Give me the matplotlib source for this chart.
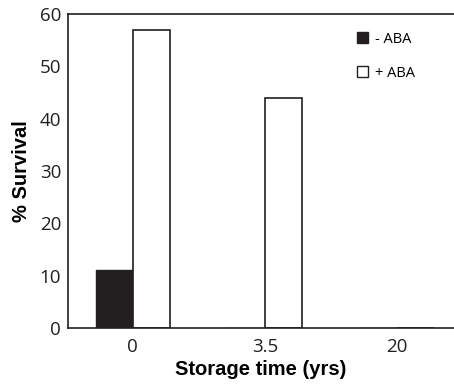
import matplotlib
matplotlib.use("Agg")
import matplotlib.pyplot as plt
import numpy as np
from matplotlib.patches import Patch

categories = ["0", "3.5", "20"]
minus_aba = [11, 0, 0]
plus_aba = [57, 44, 0]
yticks = [0, 10, 20, 30, 40, 50, 60]

fig = plt.figure(figsize=(4.54, 3.85), dpi=100)
ax = fig.add_axes([0.15, 0.148, 0.85, 0.816])

x = np.arange(len(categories))
w = 0.28
ax.bar(x - w/2, minus_aba, w, color="#231f20", edgecolor="#231f20", linewidth=1, label="- ABA")
ax.bar(x + w/2, plus_aba, w, color="white", edgecolor="#231f20", linewidth=1.2, label="+ ABA")

ax.set_xlim(-0.49, 2.43)
ax.set_ylim(0, 60)
ax.set_yticks(yticks)
ax.set_xticks(x)
ax.set_xticklabels(categories)
ax.tick_params(axis="y", length=0, labelsize=13.5, pad=5, colors="#231f20")
ax.tick_params(axis="x", length=0, labelsize=13.5, pad=7, colors="#231f20")
for lab in ax.get_xticklabels() + ax.get_yticklabels():
    lab.set_family("Open Sans")
ax.spines["right"].set_visible(False)
for s in ["left", "bottom", "top"]:
    ax.spines[s].set_linewidth(1.2)
    ax.spines[s].set_color("#231f20")

ax.set_xlabel("Storage time (yrs)", fontsize=14.5, fontweight="bold", family="Liberation Sans", labelpad=3)
ax.set_ylabel("% Survival", fontsize=14.5, fontweight="bold", family="Liberation Sans", labelpad=6)

handles = [Patch(facecolor="#231f20", edgecolor="#231f20", label="- ABA"),
           Patch(facecolor="white", edgecolor="#231f20", label="+ ABA")]
leg = ax.legend(handles=handles, loc="upper left", bbox_to_anchor=(0.715, 0.985), frameon=False,
                prop={"family": "Open Sans", "size": 10.5}, handlelength=0.75, handleheight=0.75,
                handletextpad=0.5, labelspacing=1.3)

fig.savefig("out.png", dpi=100)
